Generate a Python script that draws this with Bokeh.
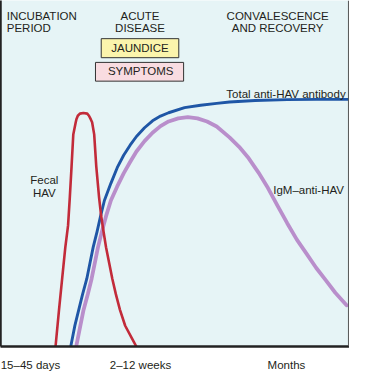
from bokeh.plotting import figure
from bokeh.models import FixedTicker, Span
from bokeh.core.properties import value
from bokeh.embed import file_html
from bokeh.resources import INLINE

# ---- data (time in relative units 0-100, level in relative units 0-100) ----
fecal_t = [15.8, 16.8, 17.7, 18.6, 19.4, 19.9, 20.4, 20.9, 21.6, 21.8, 22.2, 22.8, 23.8,
           24.9, 25.4, 25.9, 26.3, 26.9, 27.5, 28.3, 28.9, 29.6, 30.3, 31.2, 32.1, 33.1,
           34.3, 35.8, 37.7, 39.0]
fecal_v = [0.0, 10.6, 19.6, 28.6, 35.0, 43.1, 52.0, 61.3, 64.8, 65.7, 66.7, 67.3, 67.5,
           67.3, 66.7, 65.7, 64.8, 61.3, 52.0, 43.1, 37.7, 33.1, 28.7, 24.1, 19.6, 15.2,
           10.6, 6.0, 2.4, 0.0]

total_t = [20.17, 21.35, 22.46, 23.56, 24.78, 25.69, 26.60, 27.71, 28.73, 29.83, 31.69,
           33.51, 35.36, 37.21, 39.03, 41.35, 43.65, 45.94, 48.26, 52.85, 57.46, 62.07,
           65.75, 73.12, 82.32, 90.61, 100.0]
total_v = [0.0, 6.04, 10.57, 15.09, 19.59, 24.12, 28.64, 33.14, 37.67, 42.20, 47.15,
           51.68, 55.28, 58.18, 60.70, 63.22, 65.23, 66.59, 67.56, 69.02, 69.73, 70.27,
           70.65, 71.08, 71.36, 71.41, 71.41]

igm_t = [21.74, 22.93, 23.84, 25.06, 26.16, 27.07, 27.98, 29.09, 30.30, 31.69, 33.51,
         35.36, 37.21, 39.03, 41.35, 43.65, 45.94, 48.26, 51.02, 53.78, 56.55, 59.31,
         62.07, 65.75, 68.51, 71.27, 74.03, 76.80, 79.56, 82.32, 85.08, 87.85, 90.61,
         93.37, 96.13, 99.36]
igm_v = [0.0, 6.04, 10.57, 15.09, 19.59, 24.12, 28.64, 33.14, 37.67, 42.20, 46.26,
         50.05, 53.31, 56.37, 59.35, 61.79, 63.69, 65.04, 65.94, 66.31, 65.94, 65.04,
         63.60, 60.43, 57.72, 54.39, 50.33, 45.80, 40.65, 35.64, 30.89, 26.83, 22.76,
         19.16, 15.53, 11.92]

phase_line1 = ["INCUBATION", "ACUTE", "CONVALESCENCE"]
phase_line2 = ["PERIOD", "DISEASE", "AND RECOVERY"]
tick_pos = [8.6, 40.2, 82.1]
tick_labels = ["15\u201345 days", "2\u201312 weeks", "Months"]

FONT = value("Liberation Sans")
FS = "11.5px"
TXT = "#231F20"

p = figure(width=349, height=373, x_range=(0, 100.2), y_range=(0, 100),
           output_backend="svg", toolbar_location=None,
           min_border_left=0, min_border_right=0, min_border_top=0, min_border_bottom=21)
p.background_fill_color = "#E6F4F6"
p.border_fill_color = "white"
p.outline_line_color = None
p.grid.visible = False

# bottom axis with phase duration labels
xa = p.xaxis[0]
xa.ticker = FixedTicker(ticks=tick_pos)
xa.major_label_overrides = {t: l for t, l in zip(tick_pos, tick_labels)}
xa.major_tick_line_color = None
xa.minor_tick_line_color = None
xa.axis_line_width = 2.5
xa.axis_line_color = "#222222"
xa.major_label_text_font = "Liberation Sans"
xa.major_label_text_font_size = FS
xa.major_label_text_color = TXT
xa.major_label_standoff = 6

ya = p.yaxis[0]
ya.ticker = FixedTicker(ticks=[])
ya.major_tick_line_color = None
ya.minor_tick_line_color = None
ya.major_tick_out = 0
ya.major_label_standoff = 0
ya.major_label_text_font_size = "0px"
ya.axis_line_width = 2.5
ya.axis_line_color = "#222222"

p.add_layout(Span(location=99.9, dimension="height", line_color="#555555", line_width=1))

# curves
p.line(igm_t, igm_v, line_color="#B98ECB", line_width=3.8, line_join="round", line_cap="round")
p.line(total_t, total_v, line_color="#1F56A6", line_width=2.9, line_join="round", line_cap="round")
p.line(fecal_t, fecal_v, line_color="#C22B3A", line_width=2.6, line_join="round", line_cap="round")

# phase headings
hx = [1.8, 40.06, 79.56]
aligns = ["left", "center", "center"]
for x, a, l1, l2 in zip(hx, aligns, phase_line1, phase_line2):
    p.text(x=[x], y=[95.66], text=[l1], text_font=FONT, text_font_size=FS,
           text_align=a, text_baseline="alphabetic", text_color=TXT)
    p.text(x=[x], y=[92.06], text=[l2], text_font=FONT, text_font_size=FS,
           text_align=a, text_baseline="alphabetic", text_color=TXT)

# jaundice / symptoms boxes
p.quad(left=[28.92], right=[51.19], top=[88.97], bottom=[83.47],
       fill_color="#FBF4AC", line_color="#333333", line_width=1)
p.quad(left=[27.27], right=[52.57], top=[82.11], bottom=[76.69],
       fill_color="#F9DCE1", line_color="#333333", line_width=1)
p.text(x=[40.06], y=[86.3], text=["JAUNDICE"], text_font=FONT, text_font_size=FS,
       text_align="center", text_baseline="middle", text_color=TXT)
p.text(x=[40.25], y=[79.5], text=["SYMPTOMS"], text_font=FONT, text_font_size=FS,
       text_align="center", text_baseline="middle", text_color=TXT)

# curve labels
p.text(x=[99.09], y=[73.04], text=["Total anti-HAV antibody"], text_font=FONT,
       text_font_size=FS, text_align="right", text_baseline="alphabetic", text_color=TXT)
p.text(x=[98.62], y=[45.34], text=["IgM\u2013anti-HAV"], text_font=FONT,
       text_font_size=FS, text_align="right", text_baseline="alphabetic", text_color=TXT)
p.text(x=[12.57], y=[48.16], text=["Fecal"], text_font=FONT, text_font_size=FS,
       text_align="center", text_baseline="alphabetic", text_color=TXT)
p.text(x=[12.57], y=[44.44], text=["HAV"], text_font=FONT, text_font_size=FS,
       text_align="center", text_baseline="alphabetic", text_color=TXT)

open("out.html", "w").write(file_html(p, INLINE))
